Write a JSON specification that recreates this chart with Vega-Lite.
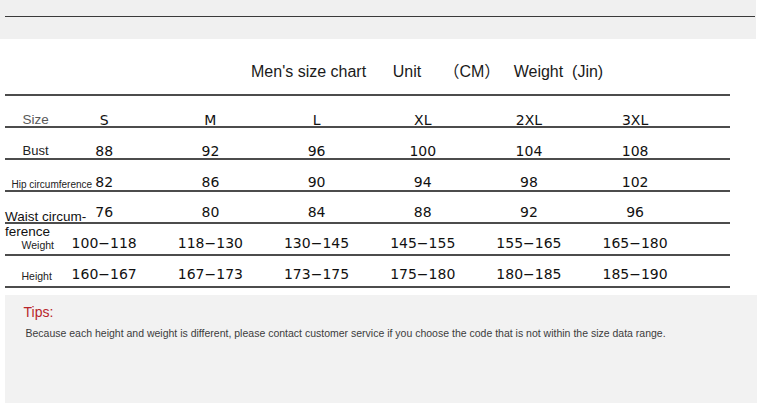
{
  "$schema": "https://vega.github.io/schema/vega-lite/v6.json",
  "width": 765,
  "height": 403,
  "autosize": {"type": "fit", "contains": "padding"},
  "padding": 0,
  "background": "white",
  "config": {"view": {"stroke": null}},
  "datasets": {
    "cells": [
      {"measure": "Size", "size": "S", "value": "S"},
      {"measure": "Size", "size": "M", "value": "M"},
      {"measure": "Size", "size": "L", "value": "L"},
      {"measure": "Size", "size": "XL", "value": "XL"},
      {"measure": "Size", "size": "2XL", "value": "2XL"},
      {"measure": "Size", "size": "3XL", "value": "3XL"},
      {"measure": "Bust", "size": "S", "value": "88"},
      {"measure": "Bust", "size": "M", "value": "92"},
      {"measure": "Bust", "size": "L", "value": "96"},
      {"measure": "Bust", "size": "XL", "value": "100"},
      {"measure": "Bust", "size": "2XL", "value": "104"},
      {"measure": "Bust", "size": "3XL", "value": "108"},
      {"measure": "Hip circumference", "size": "S", "value": "82"},
      {"measure": "Hip circumference", "size": "M", "value": "86"},
      {"measure": "Hip circumference", "size": "L", "value": "90"},
      {"measure": "Hip circumference", "size": "XL", "value": "94"},
      {"measure": "Hip circumference", "size": "2XL", "value": "98"},
      {"measure": "Hip circumference", "size": "3XL", "value": "102"},
      {"measure": "Waist circumference", "size": "S", "value": "76"},
      {"measure": "Waist circumference", "size": "M", "value": "80"},
      {"measure": "Waist circumference", "size": "L", "value": "84"},
      {"measure": "Waist circumference", "size": "XL", "value": "88"},
      {"measure": "Waist circumference", "size": "2XL", "value": "92"},
      {"measure": "Waist circumference", "size": "3XL", "value": "96"},
      {"measure": "Weight", "size": "S", "value": "100−118"},
      {"measure": "Weight", "size": "M", "value": "118−130"},
      {"measure": "Weight", "size": "L", "value": "130−145"},
      {"measure": "Weight", "size": "XL", "value": "145−155"},
      {"measure": "Weight", "size": "2XL", "value": "155−165"},
      {"measure": "Weight", "size": "3XL", "value": "165−180"},
      {"measure": "Height", "size": "S", "value": "160−167"},
      {"measure": "Height", "size": "M", "value": "167−173"},
      {"measure": "Height", "size": "L", "value": "173−175"},
      {"measure": "Height", "size": "XL", "value": "175−180"},
      {"measure": "Height", "size": "2XL", "value": "180−185"},
      {"measure": "Height", "size": "3XL", "value": "185−190"}
    ],
    "labels": [
      {"measure": "Size", "label": "Size"},
      {"measure": "Bust", "label": "Bust"},
      {"measure": "Hip circumference", "label": "Hip circumference"},
      {"measure": "Waist circumference", "label": "Waist circum-\nference"},
      {"measure": "Weight", "label": "Weight"},
      {"measure": "Height", "label": "Height"}
    ],
    "borders": [
      {"border": "header"},
      {"border": "Size"},
      {"border": "Bust"},
      {"border": "Hip circumference"},
      {"border": "Waist circumference"},
      {"border": "Weight"},
      {"border": "Height"}
    ],
    "notes": [
      {"note": "Tips:"},
      {"note": "Because each height and weight is different, please contact customer service if you choose the code that is not within the size data range."}
    ]
  },
  "layer": [
    {
      "data": {"values": [{"part": "top strip"}]},
      "mark": {"type": "rect", "color": "#f0f0f0"},
      "encoding": {
        "x": {"field": "part", "type": "nominal", "axis": null, "scale": {"type": "band", "domain": ["top strip"], "range": [0, 756], "paddingInner": 0, "paddingOuter": 0}},
        "y": {"field": "part", "type": "nominal", "axis": null, "scale": {"type": "band", "domain": ["top strip"], "range": [0, 39], "paddingInner": 0, "paddingOuter": 0}}
      }
    },
    {
      "data": {"values": [{"part": "top strip"}]},
      "mark": {"type": "tick", "orient": "horizontal", "color": "#3a3a3a", "thickness": 1.2, "size": 750, "opacity": 1},
      "encoding": {
        "x": {"field": "part", "type": "nominal", "axis": null, "scale": {"type": "point", "domain": ["top strip"], "range": [5, 755]}},
        "y": {"field": "part", "type": "nominal", "axis": null, "scale": {"type": "point", "domain": ["top strip"], "range": [16.5, 16.5]}}
      }
    },
    {
      "data": {"values": [{"part": "tips box"}]},
      "mark": {"type": "rect", "color": "#f2f2f2"},
      "encoding": {
        "x": {"field": "part", "type": "nominal", "axis": null, "scale": {"type": "band", "domain": ["tips box"], "range": [5, 757], "paddingInner": 0, "paddingOuter": 0}},
        "y": {"field": "part", "type": "nominal", "axis": null, "scale": {"type": "band", "domain": ["tips box"], "range": [295, 403], "paddingInner": 0, "paddingOuter": 0}}
      }
    },
    {
      "data": {"values": [{"title": "Men's size chart\u00a0\u00a0\u00a0\u00a0\u00a0\u00a0Unit\u00a0\u00a0\u00a0\u00a0\u00a0（CM）\u00a0\u00a0\u00a0Weight\u00a0\u00a0(Jin)"}]},
      "mark": {"type": "text", "font": "Liberation Sans, Noto Sans CJK SC", "fontSize": 16, "color": "#1a1a1a", "align": "left", "baseline": "alphabetic"},
      "encoding": {
        "x": {"field": "title", "type": "nominal", "axis": null, "scale": {"type": "point", "range": [251, 251]}},
        "y": {"field": "title", "type": "nominal", "axis": null, "scale": {"type": "point", "range": [76.5, 76.5]}},
        "text": {"field": "title"}
      }
    },
    {
      "data": {"name": "borders"},
      "mark": {"type": "tick", "orient": "horizontal", "color": "#111111", "thickness": 1.4, "size": 725, "opacity": 1},
      "encoding": {
        "x": {"datum": "table", "type": "nominal", "axis": null, "scale": {"type": "point", "domain": ["table"], "range": [5, 730]}},
        "y": {"field": "border", "type": "nominal", "axis": null, "sort": null, "scale": {"type": "point", "domain": ["header", "Size", "Bust", "Hip circumference", "Waist circumference", "Weight", "Height"], "range": [95, 287], "padding": 0}}
      }
    },
    {
      "data": {"name": "cells"},
      "mark": {"type": "text", "font": "DejaVu Sans", "fontSize": 14, "color": "#111111", "align": "center", "baseline": "middle"},
      "encoding": {
        "x": {"field": "size", "type": "nominal", "axis": null, "scale": {"type": "point", "domain": ["S", "M", "L", "XL", "2XL", "3XL"], "range": [104.2, 635.1], "padding": 0}},
        "y": {"field": "measure", "type": "nominal", "axis": null, "scale": {"type": "point", "domain": ["Size", "Bust", "Hip circumference", "Waist circumference", "Weight", "Height"], "range": [121, 275], "padding": 0}},
        "text": {"field": "value"}
      }
    },
    {
      "data": {"name": "labels"},
      "transform": [{"filter": {"field": "measure", "oneOf": ["Size", "Bust"]}}],
      "mark": {"type": "text", "font": "Liberation Sans", "align": "left", "baseline": "middle", "dy": -1},
      "encoding": {
        "x": {"datum": "labels", "type": "nominal", "axis": null, "scale": {"type": "point", "domain": ["labels"], "range": [22.5, 22.5]}},
        "y": {"field": "measure", "type": "nominal", "axis": null, "scale": {"type": "point", "domain": ["Size", "Bust", "Hip circumference", "Waist circumference", "Weight", "Height"], "range": [121, 275], "padding": 0}},
        "size": {"field": "measure", "type": "nominal", "legend": null, "scale": {"type": "ordinal", "domain": ["Size", "Bust"], "range": [13.5, 13]}},
        "color": {"field": "measure", "type": "nominal", "legend": null, "scale": {"domain": ["Size", "Bust"], "range": ["#5a5a5a", "#222222"]}},
        "text": {"field": "label"}
      }
    },
    {
      "data": {"name": "labels"},
      "transform": [{"filter": {"field": "measure", "oneOf": ["Weight", "Height"]}}],
      "mark": {"type": "text", "font": "Liberation Sans", "fontSize": 10.5, "color": "#222222", "align": "left", "baseline": "middle", "dy": 2},
      "encoding": {
        "x": {"datum": "labels", "type": "nominal", "axis": null, "scale": {"type": "point", "domain": ["labels"], "range": [21.5, 21.5]}},
        "y": {"field": "measure", "type": "nominal", "axis": null, "scale": {"type": "point", "domain": ["Size", "Bust", "Hip circumference", "Waist circumference", "Weight", "Height"], "range": [121, 275], "padding": 0}},
        "text": {"field": "label"}
      }
    },
    {
      "data": {"name": "labels"},
      "transform": [{"filter": {"field": "measure", "equal": "Hip circumference"}}],
      "mark": {"type": "text", "font": "Liberation Sans", "fontSize": 10, "color": "#222222", "align": "left", "baseline": "middle", "dy": 2},
      "encoding": {
        "x": {"datum": "labels", "type": "nominal", "axis": null, "scale": {"type": "point", "domain": ["labels"], "range": [11.5, 11.5]}},
        "y": {"field": "measure", "type": "nominal", "axis": null, "scale": {"type": "point", "domain": ["Size", "Bust", "Hip circumference", "Waist circumference", "Weight", "Height"], "range": [121, 275], "padding": 0}},
        "text": {"field": "label"}
      }
    },
    {
      "data": {"name": "labels"},
      "transform": [{"filter": {"field": "measure", "equal": "Waist circumference"}}],
      "mark": {"type": "text", "font": "Liberation Sans", "fontSize": 13.5, "lineHeight": 15, "lineBreak": "\n", "color": "#111111", "align": "left", "baseline": "middle", "dy": 4},
      "encoding": {
        "x": {"datum": "labels", "type": "nominal", "axis": null, "scale": {"type": "point", "domain": ["labels"], "range": [5, 5]}},
        "y": {"field": "measure", "type": "nominal", "axis": null, "scale": {"type": "point", "domain": ["Size", "Bust", "Hip circumference", "Waist circumference", "Weight", "Height"], "range": [121, 275], "padding": 0}},
        "text": {"field": "label"}
      }
    },
    {
      "data": {"name": "notes"},
      "mark": {"type": "text", "font": "Liberation Sans", "align": "left", "baseline": "middle"},
      "encoding": {
        "x": {"field": "note", "type": "nominal", "axis": null, "sort": null, "scale": {"type": "point", "range": [23.5, 25.5], "padding": 0}},
        "y": {"field": "note", "type": "nominal", "axis": null, "sort": null, "scale": {"type": "point", "range": [313, 334], "padding": 0}},
        "size": {"field": "note", "type": "nominal", "legend": null, "sort": null, "scale": {"type": "ordinal", "range": [14, 10.5]}},
        "color": {"field": "note", "type": "nominal", "legend": null, "sort": null, "scale": {"range": ["#b8252a", "#3c3c3c"]}},
        "text": {"field": "note"}
      }
    }
  ],
  "resolve": {"scale": {"x": "independent", "y": "independent", "size": "independent", "color": "independent"}}
}
